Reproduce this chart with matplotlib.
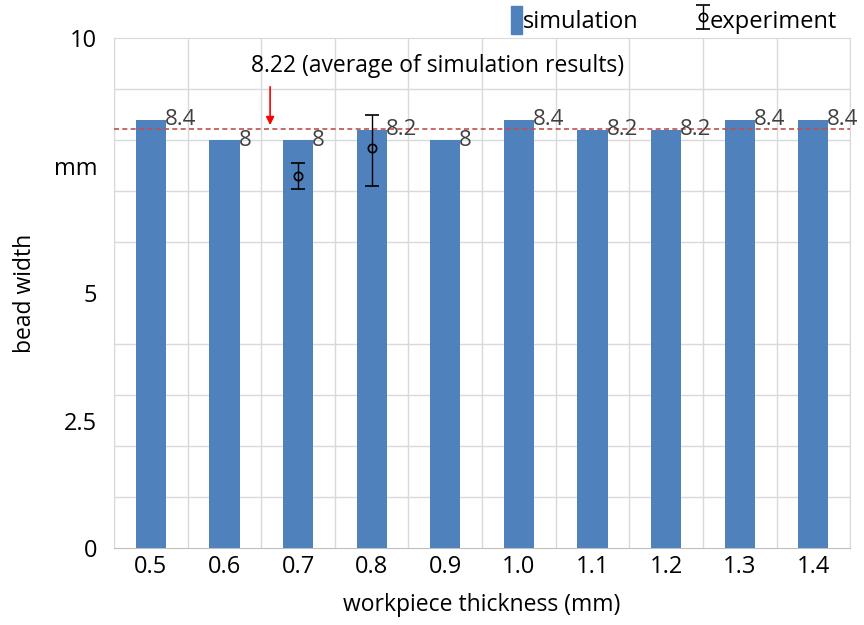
import numpy as np
import matplotlib.pyplot as plt
from matplotlib.patches import Patch

plt.rcParams['font.family'] = ['Open Sans', 'DejaVu Sans']

thickness = ["0.5", "0.6", "0.7", "0.8", "0.9", "1.0", "1.1", "1.2", "1.3", "1.4"]
simulation = [8.4, 8.0, 8.0, 8.2, 8.0, 8.4, 8.2, 8.2, 8.4, 8.4]
bar_labels = ["8.4", "8", "8", "8.2", "8", "8.4", "8.2", "8.2", "8.4", "8.4"]

exp_cats = ["0.7", "0.8"]
experiment = [7.3, 7.85]
exp_err_low = [0.25, 0.75]
exp_err_high = [0.25, 0.65]

avg = np.mean(simulation)
avg_text = "8.22 (average of simulation results)"

ytick_vals = [0, 2.5, 5, 7.5, 10]
ytick_labels = ["0", "2.5", "5", "mm", "10"]

blue = "#4f81bd"
grid_c = "#d9d9d9"

fig = plt.figure(figsize=(8.64, 6.25), dpi=100)
ax = fig.add_axes([0.132, 0.123, 0.852, 0.816])

x = np.arange(len(thickness))
ax.bar(x, simulation, width=0.41, color=blue, zorder=3)

for xi, v, lab in zip(x, simulation, bar_labels):
    ax.text(xi + 0.19, v, lab, ha="left", va="center", fontsize=16, color="#404040", zorder=5)

ex = [thickness.index(c) for c in exp_cats]
exp_handle = ax.errorbar(ex, experiment, yerr=[exp_err_low, exp_err_high], fmt="o", mfc="none",
                         mec="black", ecolor="black", color="black", ms=6, mew=1.2, elinewidth=1,
                         capsize=5, capthick=1, zorder=6)

ax.axhline(avg, color="#c0504d", ls=(0, (3, 2)), lw=1.2, zorder=4)
ax.annotate("", xy=(1.62, avg + 0.02), xytext=(1.62, 9.1),
            arrowprops=dict(arrowstyle="-|>", color="red", lw=1.2, mutation_scale=12), zorder=6)
ax.text(3.9, 9.45, avg_text, ha="center", va="center", fontsize=16.5, color="black")

ax.set_xlim(-0.5, len(thickness) - 0.5)
ax.set_ylim(0, 10)
ax.set_xticks(x)
ax.set_xticklabels(thickness, fontsize=17)
ax.set_xticks(np.arange(-0.5, len(thickness), 1), minor=True)
ax.set_yticks(ytick_vals)
ax.set_yticklabels(ytick_labels, fontsize=17)
ax.set_yticks(np.arange(0, 11, 1), minor=True)
ax.tick_params(axis="both", which="both", length=0)
ax.tick_params(axis="y", pad=12)
ax.tick_params(axis="x", pad=5)
ax.grid(True, which="minor", color=grid_c, lw=1, zorder=0)
ax.grid(False, which="major")
for s in ax.spines.values():
    s.set_color(grid_c)
ax.spines["bottom"].set_color("#bfbfbf")

ax.set_xlabel("workpiece thickness (mm)", fontsize=16.5, labelpad=10)
ax.set_ylabel("bead width", fontsize=16.5)
ax.yaxis.set_label_coords(-0.104, 0.5)

handles = [Patch(color=blue), exp_handle]
fig.legend(handles, ["simulation", "experiment"], loc="upper right", bbox_to_anchor=(0.993, 1.025),
           ncol=2, frameon=False, fontsize=17, handlelength=0.45, handleheight=1.5,
           handletextpad=0.05, columnspacing=2.5)

fig.savefig("out.png", dpi=100)
